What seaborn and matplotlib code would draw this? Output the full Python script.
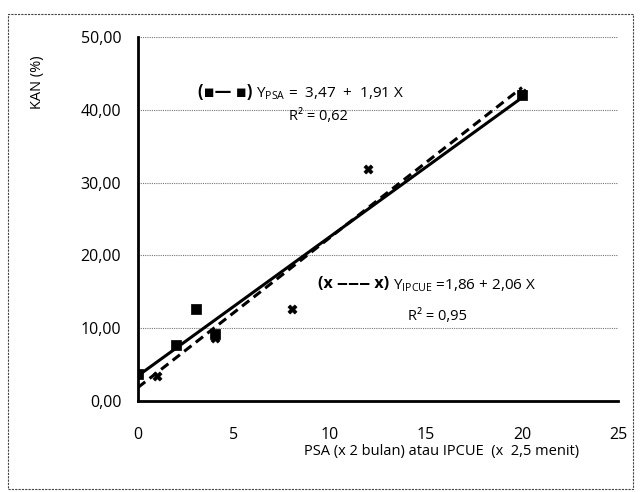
import numpy as np
import pandas as pd
import matplotlib
matplotlib.use("Agg")
import matplotlib.pyplot as plt
import seaborn as sns
from matplotlib.patches import Rectangle

# ---- data ----
psa_x = [0, 2, 3, 4, 20]
psa_y = [3.7, 7.7, 12.7, 9.2, 42.0]
ipcue_x = [1, 4, 8, 12, 20]
ipcue_y = [3.5, 8.6, 12.7, 31.8, 42.3]
psa_coef = [3.47, 1.91]      # intercept, slope
ipcue_coef = [1.86, 2.06]
fit_range = [0, 20]
x_ticks = [0, 5, 10, 15, 20, 25]
y_ticks = [0, 10, 20, 30, 40, 50]
y_tick_labels = ["0,00", "10,00", "20,00", "30,00", "40,00", "50,00"]

sns.set_theme(style="white")
FONT = ["Open Sans", "DejaVu Sans"]
plt.rcParams["font.family"] = FONT
plt.rcParams["mathtext.fontset"] = "custom"
plt.rcParams["mathtext.rm"] = "Open Sans"

W, H = 642, 492
fig = plt.figure(figsize=(W / 100, H / 100), dpi=100)
fig.patch.set_facecolor("white")

def fx(px):
    return px / W

def fy(py):
    return 1 - py / H

# outer frame
fig.add_artist(Rectangle((fx(8), fy(489)), fx(633) - fx(8), fy(14) - fy(489),
                         transform=fig.transFigure, fill=False,
                         edgecolor="#444444", lw=0.8, linestyle=(0, (2, 1))))

ax = fig.add_axes([fx(138), fy(401), fx(618) - fx(138), fy(37) - fy(401)])

xfit = np.array(fit_range, dtype=float)
df_lines = pd.DataFrame({
    "x": np.concatenate([xfit, xfit]),
    "y": np.concatenate([psa_coef[0] + psa_coef[1] * xfit,
                         ipcue_coef[0] + ipcue_coef[1] * xfit]),
    "s": ["PSA"] * 2 + ["IPCUE"] * 2,
})
sns.lineplot(data=df_lines[df_lines.s == "PSA"], x="x", y="y", ax=ax,
             color="black", lw=2.2, legend=False)
sns.lineplot(data=df_lines[df_lines.s == "IPCUE"], x="x", y="y", ax=ax,
             color="black", lw=2.2, linestyle=(0, (3, 1.8)), legend=False)

sns.scatterplot(x=psa_x, y=psa_y, ax=ax, marker="s", s=42, color="black",
                edgecolor="black", legend=False, zorder=5)
sns.scatterplot(x=ipcue_x, y=ipcue_y, ax=ax, marker="X", s=42, color="black",
                edgecolor="black", legend=False, zorder=5)

ax.set_xlim(0, 25)
ax.set_ylim(0, 50)
ax.set_xticks(x_ticks)
ax.set_xticklabels([str(t) for t in x_ticks])
ax.set_yticks(y_ticks)
ax.set_yticklabels(y_tick_labels)
ax.yaxis.grid(True, linestyle=(0, (1, 1)), color="#777777", lw=0.8)
ax.xaxis.grid(False)
for s in ["top", "right"]:
    ax.spines[s].set_visible(False)
for s in ["left", "bottom"]:
    ax.spines[s].set_color("black")
    ax.spines[s].set_linewidth(2)
ax.tick_params(axis="both", direction="out", length=4, width=1.5,
               color="black", labelsize=11.5, labelcolor="black")
ax.tick_params(axis="x", pad=15)
ax.tick_params(axis="y", pad=8)
ax.set_xlabel("")
ax.set_ylabel("")

fig.text(fx(442), fy(452), "PSA (x 2 bulan) atau IPCUE  (x  2,5 menit)",
         ha="center", va="center", fontsize=10.5, color="black")
fig.text(fx(37), fy(82), "KAN (%)", rotation=90, ha="center", va="center",
         fontsize=10.5, color="black")

# equation annotations
fig.text(fx(198), fy(92), "(\u25aa\u2014 \u25aa)", ha="left", va="center",
         fontsize=12, color="black", fontweight="bold", family=FONT)
fig.text(fx(256), fy(94), r"$\mathrm{Y_{PSA}}$ =  3,47  +  1,91 X",
         ha="left", va="center", fontsize=11, color="black")
fig.text(fx(318), fy(116), "R\u00b2 = 0,62", ha="center", va="center",
         fontsize=10.5, color="black")

fig.text(fx(318), fy(284), "(x \u2012\u2012\u2012 x)", ha="left", va="center",
         fontsize=11.5, color="black", fontweight="bold", family=FONT)
fig.text(fx(393), fy(286), r"$\mathrm{Y_{IPCUE}}$ =1,86 + 2,06 X",
         ha="left", va="center", fontsize=11, color="black")
fig.text(fx(437), fy(317), "R\u00b2 = 0,95", ha="center", va="center",
         fontsize=10.5, color="black")

fig.savefig("out.png", dpi=100, facecolor="white")
